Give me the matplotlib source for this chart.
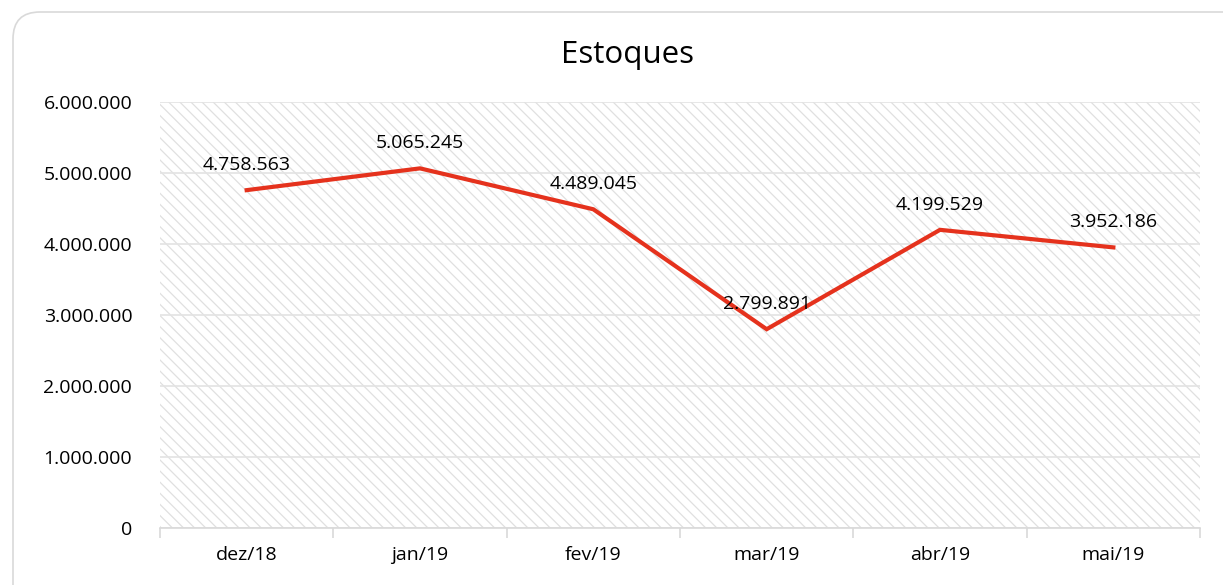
import matplotlib
matplotlib.use("Agg")
import matplotlib.pyplot as plt
from matplotlib.patches import Rectangle, FancyBboxPatch
from matplotlib.ticker import FuncFormatter
import numpy as np

plt.rcParams['font.family'] = ['Open Sans', 'DejaVu Sans']
plt.rcParams['hatch.color'] = '#e0e0e0'
plt.rcParams['hatch.linewidth'] = 0.9

# data
meses = ['dez/18', 'jan/19', 'fev/19', 'mar/19', 'abr/19', 'mai/19']
estoques = [4758563, 5065245, 4489045, 2799891, 4199529, 3952186]


def fmt_br(v, pos=None):
    return f"{int(round(v)):,}".replace(",", ".")


fig = plt.figure(figsize=(12.23, 5.85), dpi=100)

# rounded chart border (runs off the right and bottom edges)
borda = FancyBboxPatch((13 / 1223, -30 / 585), 1.2, 603 / 585,
                       boxstyle="round,pad=0,rounding_size=0.022",
                       transform=fig.transFigure, facecolor='none',
                       edgecolor='#d9d9d9', linewidth=1.2, zorder=-1,
                       mutation_aspect=1223 / 585)
fig.patches.append(borda)

ax = fig.add_axes([160 / 1223, 1 - 528 / 585, 1040 / 1223, 426 / 585])
ax.set_facecolor('none')

x = np.arange(len(meses))
ax.set_xlim(-0.5, len(meses) - 0.5)
ax.set_ylim(0, 6000000)

# hatched background of the plot area
ax.add_patch(Rectangle((0, 0), 1, 1, transform=ax.transAxes, facecolor='white',
                       edgecolor='#e0e0e0', hatch='\\\\\\', linewidth=0, zorder=0))

ax.set_yticks(np.arange(0, 6000001, 1000000))
ax.yaxis.set_major_formatter(FuncFormatter(fmt_br))
ax.grid(axis='y', color='#e3e3e3', linewidth=1.2, zorder=1)
ax.set_axisbelow(True)

ax.set_xticks(x)
ax.set_xticklabels(meses)
ax.set_xticks(np.arange(-0.5, len(meses), 1), minor=True)
ax.tick_params(axis='x', which='major', length=0, pad=13, labelsize=14, labelcolor='#000000')
ax.tick_params(axis='x', which='minor', length=7, color='#d9d9d9', width=1.2)
ax.tick_params(axis='y', length=0, pad=20, labelsize=14, labelcolor='#000000')

for s in ['top', 'right', 'left']:
    ax.spines[s].set_visible(False)
ax.spines['bottom'].set_color('#d9d9d9')
ax.spines['bottom'].set_linewidth(1.2)

ax.plot(x, estoques, color='#e5321d', linewidth=3, zorder=3, solid_joinstyle='miter')

for xi, v in zip(x, estoques):
    ax.annotate(fmt_br(v), (xi, v), xytext=(0, 18), textcoords='offset points',
                ha='center', va='center', fontsize=14, color='#000000', zorder=4)

fig.text(628 / 1223, 1 - 55 / 585, 'Estoques', ha='center', va='center',
         fontsize=22.5, color='#000000')

fig.savefig('out.png', dpi=100)
